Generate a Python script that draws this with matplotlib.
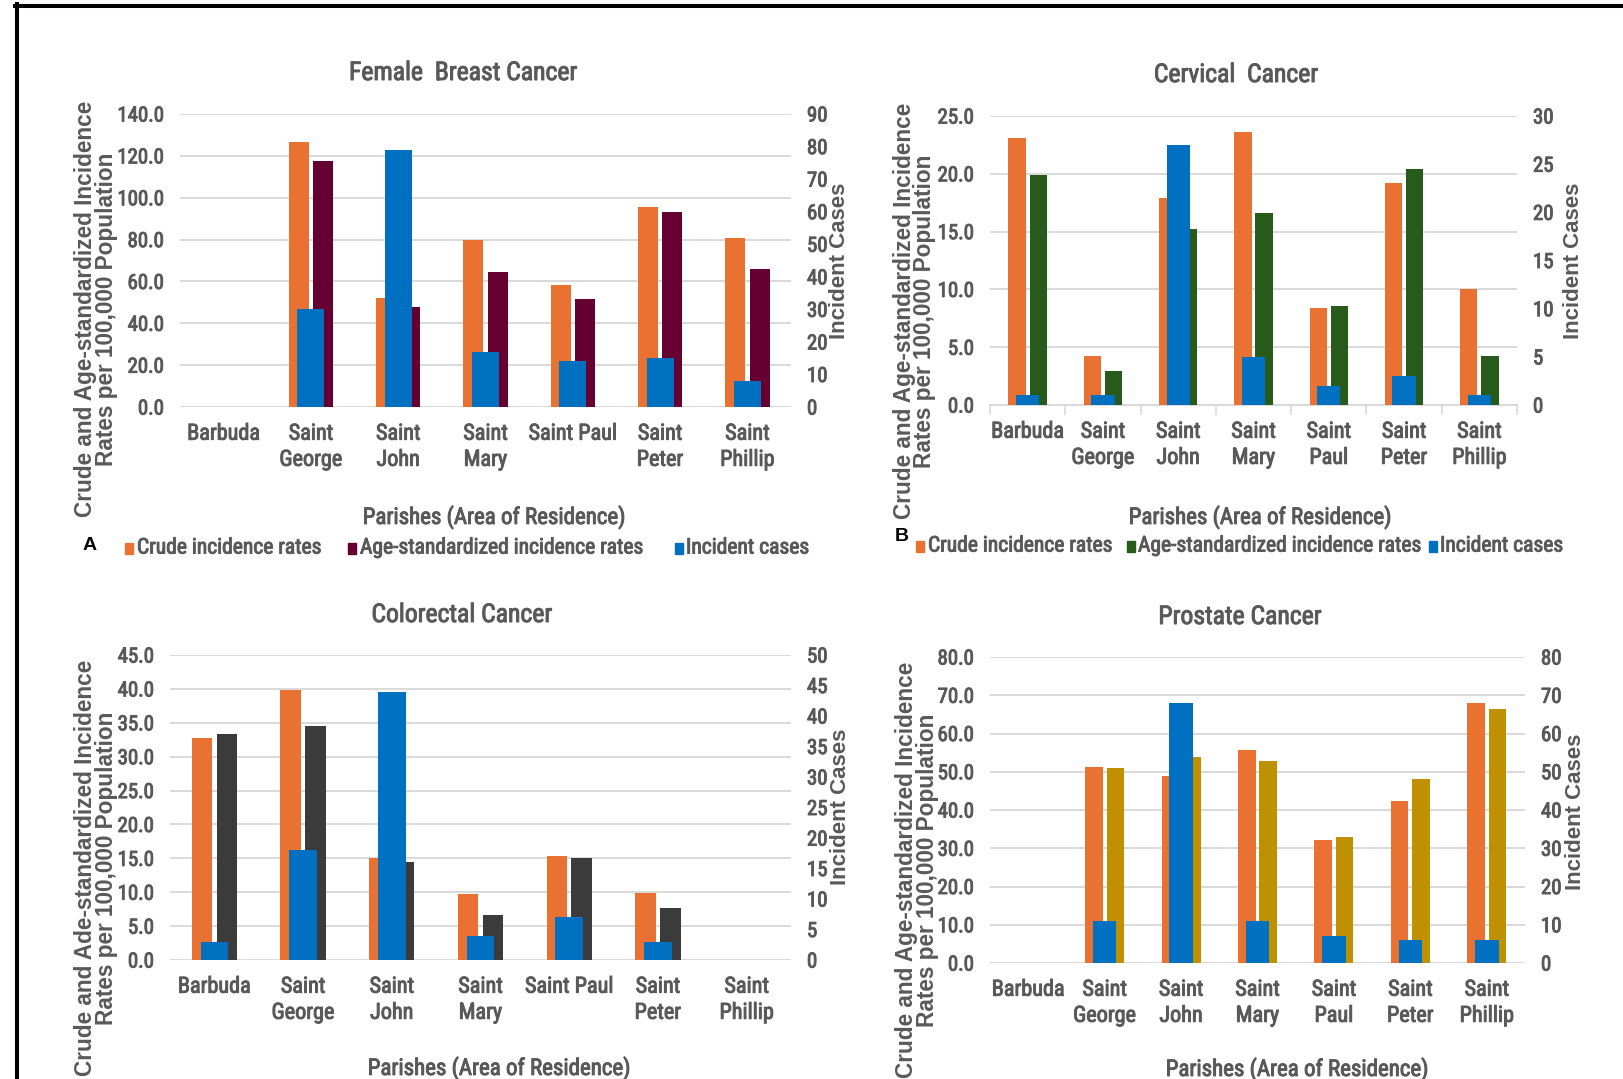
import numpy as np
import matplotlib
matplotlib.use("Agg")
import matplotlib.pyplot as plt
from matplotlib import font_manager
from matplotlib import patheffects
from matplotlib.lines import Line2D
from matplotlib.patches import Rectangle
from matplotlib.transforms import Affine2D

# ---------------------------------------------------------------- data
nan = np.nan
parishes_a = ["Barbuda", "Saint\nGeorge", "Saint\nJohn", "Saint\nMary",
              "Saint Paul", "Saint\nPeter", "Saint\nPhillip"]
parishes_b = ["Barbuda", "Saint\nGeorge", "Saint\nJohn", "Saint\nMary",
              "Saint\nPaul", "Saint\nPeter", "Saint\nPhillip"]

breast_crude = [nan, 126.7, 52.3, 79.8, 58.4, 95.8, 80.6]
breast_asr = [nan, 117.4, 47.7, 64.5, 51.4, 93.4, 66.1]
breast_cases = [nan, 30, 79, 17, 14, 15, 8]

cervical_crude = [23.1, 4.2, 17.9, 23.6, 8.4, 19.2, 10.0]
cervical_asr = [19.9, 2.9, 15.2, 16.6, 8.6, 20.4, 4.2]
cervical_cases = [1, 1, 27, 5, 2, 3, 1]

colorectal_crude = [32.8, 39.9, 15.1, 9.7, 15.3, 9.9, nan]
colorectal_asr = [33.3, 34.5, 14.4, 6.6, 15.1, 7.6, nan]
colorectal_cases = [3, 18, 44, 4, 7, 3, nan]

prostate_crude = [nan, 51.3, 48.9, 55.6, 32.2, 42.3, 68.1]
prostate_asr = [nan, 51.0, 53.9, 52.7, 33.0, 48.0, 66.4]
prostate_cases = [nan, 11, 68, 11, 7, 6, 6]

# ---------------------------------------------------------------- fonts
_names = {f.name for f in font_manager.fontManager.ttflist}
NARROW, SX = "Liberation Sans", 0.82
for _n in ("Liberation Sans Narrow", "Arial Narrow", "Roboto Condensed"):
    if _n in _names:
        NARROW, SX = _n, 1.0
        break
WIDE = "Liberation Sans" if "Liberation Sans" in _names else "DejaVu Sans"

GREY = "#595959"
GRID = "#D9D9D9"
ORANGE = "#E97132"
BLUE = "#0070C0"
MAROON = "#660033"
GREEN = "#285A1C"
DARK = "#3B3B3B"
GOLD = "#BF9000"


class Condense(patheffects.AbstractPathEffect):
    """Squeeze glyph outlines horizontally around the text's anchor."""

    def __init__(self, sx, anchor="center"):
        super().__init__()
        self.sx = sx
        self.anchor = anchor

    def draw_path(self, renderer, gc, tpath, affine, rgbFace=None):
        v = affine.transform(tpath.vertices)
        if len(v) == 0:
            return
        x0, x1 = v[:, 0].min(), v[:, 0].max()
        cx = {"left": x0, "right": x1}.get(self.anchor, (x0 + x1) / 2)
        squeeze = Affine2D().translate(-cx, 0).scale(self.sx, 1).translate(cx, 0)
        renderer.draw_path(gc, tpath, affine + squeeze, rgbFace)


def narrow(texts, anchor="center", color=GREY):
    # slightly heavier strokes for the condensed face
    for t in texts:
        if SX == 1.0:
            t.set_path_effects([patheffects.withStroke(linewidth=0.7,
                                                       foreground=color)])
        else:
            t.set_path_effects([Condense(SX, anchor)])


# ---------------------------------------------------------------- figure
W, H = 1624, 1079
fig = plt.figure(figsize=(W / 100, H / 100), dpi=100)


def rect(l, t, r, b):
    return [l / W, 1 - b / H, (r - l) / W, (b - t) / H]


def ftext(x, y, s, **kw):
    kw.setdefault("color", GREY)
    kw.setdefault("ha", "center")
    kw.setdefault("va", "center")
    return fig.text(x / W, 1 - y / H, s, **kw)


def panel(box, crude, asr, cases, asr_color, labels, ymax, ystep, cmax, cstep,
          title, title_xy, ylab1, ylab_x, ylab_y, rlab_xy, xlab_xy,
          boundary_ticks=False):
    ax = fig.add_axes(rect(*box))
    x = np.arange(len(labels))
    w, off = 0.23, 0.14
    ax.bar(x - off, crude, w, color=ORANGE, zorder=3)
    ax.bar(x + off, asr, w, color=asr_color, zorder=3)
    ax.set_xlim(-0.5, len(labels) - 0.5)
    ax.set_ylim(0, ymax)
    ax.set_yticks(np.arange(0, ymax + ystep / 2, ystep))
    ax.set_yticklabels([f"{v:.1f}" for v in ax.get_yticks()],
                       fontfamily=NARROW, fontsize=15, color=GREY)
    ax.tick_params(axis="y", length=0, pad=11.5)
    ax.grid(axis="y", color=GRID, lw=1.4, zorder=0)
    ax.set_axisbelow(True)
    for s in ax.spines.values():
        s.set_visible(False)
    ax.set_xticks(x)
    ax.set_xticklabels(labels, fontfamily=NARROW, fontsize=16, color=GREY,
                       linespacing=1.32)
    ax.tick_params(axis="x", length=0, pad=12)
    if boundary_ticks:
        ax.spines["bottom"].set_visible(True)
        ax.spines["bottom"].set_color(GRID)
        ax.spines["bottom"].set_linewidth(1.4)
        ax.set_xticks(np.arange(-0.5, len(labels)), minor=True)
        ax.tick_params(axis="x", which="minor", length=7, width=1.2,
                       color=GRID, direction="out")
    narrow(ax.get_yticklabels(), "right")
    narrow(ax.get_xticklabels(), "center")

    ax2 = ax.twinx()
    ax2.bar(x, cases, 0.31, color=BLUE, zorder=3)
    ax2.set_ylim(0, cmax)
    ax2.set_yticks(np.arange(0, cmax + cstep / 2, cstep))
    ax2.set_yticklabels([f"{int(v)}" for v in ax2.get_yticks()],
                        fontfamily=NARROW, fontsize=15, color=GREY)
    ax2.tick_params(axis="y", length=0, pad=11.5)
    for s in ax2.spines.values():
        s.set_visible(False)
    narrow(ax2.get_yticklabels(), "left")

    narrow([ftext(*title_xy, title, fontfamily=NARROW, fontsize=18.5)])
    ftext(ylab_x[0], ylab_y, ylab1, rotation=90, fontfamily=WIDE,
          fontweight="bold", fontsize=16.3)
    ftext(ylab_x[1], ylab_y, "Rates per 100,000 Population", rotation=90,
          fontfamily=WIDE, fontweight="bold", fontsize=16.3)
    ftext(*rlab_xy, "Incident Cases", rotation=90, fontfamily=WIDE,
          fontweight="bold", fontsize=16)
    narrow([ftext(*xlab_xy, "Parishes (Area of Residence)",
                  fontfamily=NARROW, fontsize=16.5)])
    return ax


panel((180, 114, 791, 407), breast_crude, breast_asr, breast_cases, MAROON,
      parishes_a, 140, 20, 90, 10, "Female  Breast Cancer", (463, 73),
      "Crude and Age-standardized Incidence", (86, 107), 309, (840, 261),
      (494, 517))
panel((990, 116, 1517, 405), cervical_crude, cervical_asr, cervical_cases,
      GREEN, parishes_b, 25, 5, 30, 5, "Cervical  Cancer", (1236, 75),
      "Crude and Age-standardized Incidence", (905, 925), 311, (1574, 261),
      (1260, 517), boundary_ticks=True)
panel((170, 655, 791, 960), colorectal_crude, colorectal_asr,
      colorectal_cases, DARK, parishes_a, 45, 5, 50, 5, "Colorectal Cancer",
      (462, 615), "Crude and Ade-standardized Incidence", (86, 107), 868,
      (841, 807), (499, 1068))
panel((990, 657, 1525, 963), prostate_crude, prostate_asr, prostate_cases,
      GOLD, parishes_b, 80, 10, 80, 10, "Prostate Cancer", (1240, 617),
      "Crude and Age-standardized Incidence", (907, 928), 870, (1576, 812),
      (1297, 1069))


# ---------------------------------------------------------------- legends
def legend(letter, letter_xy, y, items):
    ftext(*letter_xy, letter, color="black", fontfamily=WIDE,
          fontweight="bold", fontsize=14)
    for sq_x, tx, color, label in items:
        fig.patches.append(Rectangle(((sq_x - 4) / W, 1 - (y + 6) / H),
                                     8 / W, 11 / H, color=color,
                                     transform=fig.transFigure, figure=fig))
        narrow([ftext(tx, y, label, ha="left", fontfamily=NARROW,
                      fontsize=15.5)], "left")


legend("A", (90, 545), 548, [
    (129, 137, ORANGE, "Crude incidence rates"),
    (352, 360, MAROON, "Age-standardized incidence rates"),
    (679, 686, BLUE, "Incident cases"),
])
legend("B", (902, 537), 546, [
    (920, 928, ORANGE, "Crude incidence rates"),
    (1131, 1138, GREEN, "Age-standardized incidence rates"),
    (1433, 1440, BLUE, "Incident cases"),
])

# ---------------------------------------------------------------- frame
fig.add_artist(Line2D([15 / W, 1.0], [1 - 6 / H, 1 - 6 / H], color="black",
                      lw=2.9, transform=fig.transFigure))
fig.add_artist(Line2D([17 / W, 17 / W], [1 - 4 / H, 0.0], color="black",
                      lw=2.9, transform=fig.transFigure))

fig.savefig("out.png", dpi=100, facecolor="white")
